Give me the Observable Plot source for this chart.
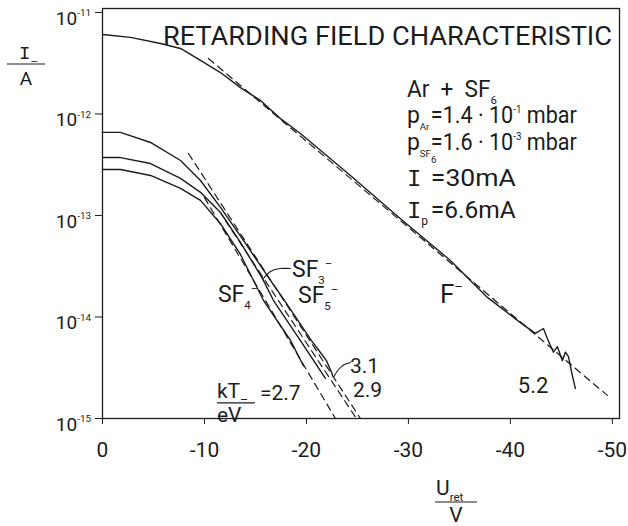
<!DOCTYPE html>
<html><head><meta charset="utf-8">
<script src="https://cdn.jsdelivr.net/npm/d3@7"></script>
<script src="https://cdn.jsdelivr.net/npm/@observablehq/plot@0.6"></script>
<style>
body{margin:0;background:#fff;}
#chart{width:628px;height:526px;}
</style></head><body><div id="chart"></div>
<script>
// ---- data (retarding voltage U in V, current I in A) ----
const xTicks = [0, -10, -20, -30, -40, -50];
const yTicks = [1e-15, 1e-14, 1e-13, 1e-12, 1e-11];

const fU = [0, -2.75, -5.69, -7.65, -9.61, -11.57, -13.53, -15.49, -17.45, -19.41, -24.31, -29.22, -34.12, -37.75, -40.98, -42.45, -43.24, -43.63, -44.22, -44.61, -45.10, -45.39, -45.69, -46.08, -46.37];
const fI = [6.07e-12, 5.68e-12, 4.95e-12, 4.42e-12, 3.37e-12, 2.56e-12, 1.82e-12, 1.36e-12, 9.0e-13, 6.43e-13, 2.48e-13, 9.3e-14, 3.6e-14, 1.56e-14, 8.8e-15, 6.9e-15, 7.7e-15, 6.1e-15, 4.5e-15, 5.1e-15, 3.7e-15, 4.5e-15, 4.1e-15, 2.65e-15, 1.98e-15];

const sf5U = [0, -1.76, -4.71, -7.65, -9.61, -11.57, -13.82, -16.47, -17.84, -20.49, -21.37, -21.96, -22.55];
const sf5I = [6.58e-13, 6.58e-13, 5.24e-13, 3.48e-13, 2.21e-13, 1.2e-13, 5.68e-14, 2.29e-14, 1.46e-14, 5.86e-15, 4.47e-15, 3.72e-15, 2.71e-15];

const sf3U = [0, -1.76, -4.71, -7.65, -9.61, -11.57, -13.53, -15.69, -16.76, -19.41, -21.86];
const sf3I = [3.72e-13, 3.72e-13, 3.25e-13, 2.32e-13, 1.69e-13, 1.07e-13, 5.42e-14, 2.39e-14, 1.46e-14, 5.86e-15, 2.48e-15];

const sf4U = [0, -1.76, -4.71, -7.65, -9.61, -11.57, -13.53, -15.78, -18.43, -19.71];
const sf4I = [2.84e-13, 2.84e-13, 2.48e-13, 1.85e-13, 1.41e-13, 8.3e-14, 4.13e-14, 1.46e-14, 5.9e-15, 3.3e-15];

// fitted exponential slopes (dashed)
const fitFU = [-10.39, -49.51], fitFI = [3.52e-12, 1.69e-15];
const fitAU = [-8.43, -25.29],  fitAI = [4.08e-13, 1e-15];
const fitBU = [-10.0, -22.84],  fitBI = [1.5e-13, 1e-15];
const fitCU = [-12.06, -24.9],  fitCI = [8.9e-14, 1e-15];

// leader lines
const leadSF3U = [-15.69, -16.47, -17.45, -18.43], leadSF3I = [2.34e-14, 2.81e-14, 3.0e-14, 3.0e-14];
const leadT31U = [-22.65, -23.14, -23.73, -24.31], leadT31I = [2.54e-15, 3.04e-15, 3.4e-15, 3.56e-15];

const rows = (u, I) => u.map((v, i) => ({u: v, I: I[i]}));

const ink = "#1c1c1c";
const FONT = "Roboto, 'DejaVu Sans', sans-serif";
const MONO = "'Liberation Mono', 'DejaVu Sans Mono', monospace";

const plot = Plot.plot({
  width: 628, height: 526,
  marginLeft: 102, marginRight: 9, marginTop: 8, marginBottom: 108,
  style: {background: "white", color: ink, fontFamily: FONT},
  x: {domain: [0, -50.7]},
  y: {type: "log", domain: [1e-15, 1.094e-11]},
  marks: [
    Plot.frame({stroke: ink, strokeWidth: 1.3}),
    Plot.axisX({ticks: xTicks, tickSize: 6, tickPadding: 18, fontSize: 21, label: null,
      tickFormat: d => d === 0 ? "0" : "-" + Math.abs(d)}),
    Plot.axisY({ticks: yTicks, tickSize: 7, label: null, tickFormat: () => ""}),
    Plot.line(rows(fitFU, fitFI), {x: "u", y: "I", stroke: ink, strokeWidth: 1.2, strokeDasharray: "7,5"}),
    Plot.line(rows(fitAU, fitAI), {x: "u", y: "I", stroke: ink, strokeWidth: 1.2, strokeDasharray: "7,5"}),
    Plot.line(rows(fitBU, fitBI), {x: "u", y: "I", stroke: ink, strokeWidth: 1.2, strokeDasharray: "7,5"}),
    Plot.line(rows(fitCU, fitCI), {x: "u", y: "I", stroke: ink, strokeWidth: 1.2, strokeDasharray: "7,5"}),
    Plot.line(rows(fU, fI), {x: "u", y: "I", stroke: ink, strokeWidth: 1.4}),
    Plot.line(rows(sf5U, sf5I), {x: "u", y: "I", stroke: ink, strokeWidth: 1.4}),
    Plot.line(rows(sf3U, sf3I), {x: "u", y: "I", stroke: ink, strokeWidth: 1.4}),
    Plot.line(rows(sf4U, sf4I), {x: "u", y: "I", stroke: ink, strokeWidth: 1.4}),
    Plot.line(rows(leadSF3U, leadSF3I), {x: "u", y: "I", stroke: ink, strokeWidth: 1.1, curve: "natural"}),
    Plot.line(rows(leadT31U, leadT31I), {x: "u", y: "I", stroke: ink, strokeWidth: 1.1, curve: "natural"})
  ]
});
document.getElementById("chart").appendChild(plot);

const sx = plot.scale("x"), sy = plot.scale("y");
const X = u => sx.apply(u), Y = I => sy.apply(I);
const svg = d3.select(plot);

// parts: "text" or [text, kind, scale, family]
function rich(x, y, size, parts, opt = {}) {
  const t = svg.append("text").attr("x", x).attr("y", y).attr("font-size", size)
    .attr("fill", ink).attr("font-family", opt.family || FONT)
    .attr("text-anchor", opt.anchor || "start");
  let shift = 0;
  for (const p of parts) {
    const [s, kind, scale, fam] = typeof p === "string" ? [p, "n"] : p;
    const target = kind === "sub" ? size * 0.3 : kind === "sup" ? -size * 0.45 : kind === "sub2" ? size * 0.55 : 0;
    const fs = kind === "n" ? size : size * (scale || 0.55);
    const ts = t.append("tspan").attr("dy", target - shift).attr("font-size", fs).text(s);
    if (fam) ts.attr("font-family", fam);
    shift = target;
  }
  if (opt.len) t.attr("textLength", opt.len).attr("lengthAdjust", "spacingAndGlyphs");
  return t;
}

// y tick labels: 10 with superscript exponent
for (const v of yTicks) {
  const e = Math.round(Math.log10(v));
  rich(91, Y(v) + 13, 19, ["10", [String(e), "sup", 0.52]], {anchor: "end"});
}

// title and conditions
rich(X(-5.98), Y(4.73e-12), 25, ["RETARDING FIELD CHARACTERISTIC"], {len: 449});
rich(X(-29.9), Y(1.46e-12), 23, ["Ar  +  SF", ["6", "sub", 0.5]], {len: 90});
rich(X(-29.9), Y(8.05e-13), 23, ["p", ["Ar", "sub", 0.42]]);
rich(X(-32.25), Y(8.05e-13), 23, ["=1.4 \u00B7 10", ["-1", "sup", 0.45], " mbar"], {len: 146});
rich(X(-29.9), Y(4.37e-13), 23, ["p", ["SF", "sub", 0.42], ["6", "sub2", 0.42]]);
rich(X(-32.25), Y(4.37e-13), 23, ["=1.6 \u00B7 10", ["-3", "sup", 0.45], " mbar"], {len: 146});
rich(X(-29.9), Y(1.93e-13), 24, [["I", "n", 1, MONO]]);
rich(X(-32.25), Y(1.93e-13), 23, ["=30mA"], {len: 85});
rich(X(-29.9), Y(9.33e-14), 24, [["I", "n", 1, MONO], ["p", "sub", 0.5]]);
rich(X(-32.25), Y(9.33e-14), 23, ["=6.6mA"], {len: 85});

// curve labels
rich(X(-11.37), Y(1.39e-14), 23, ["SF", ["4", "sub", 0.5], ["\u2013", "sup", 0.5]]);
rich(X(-18.63), Y(2.45e-14), 23, ["SF", ["3", "sub", 0.5], ["\u2013", "sup", 0.5]]);
rich(X(-19.22), Y(1.36e-14), 23, ["SF", ["5", "sub", 0.5], ["\u2013", "sup", 0.5]]);
rich(X(-33.14), Y(1.36e-14), 26, ["F", ["\u2013", "sup", 0.5]]);
rich(X(-40.78), Y(1.76e-15), 22, ["5.2"]);
rich(X(-24.31), Y(2.77e-15), 21, ["3.1"]);
rich(X(-24.61), Y(1.61e-15), 21, ["2.9"]);
// kT/eV = 2.7
rich(X(-11.27), Y(1.57e-15), 21, ["kT", ["\u2013", "sub", 0.6]]);
svg.append("line").attr("x1", X(-11.27)).attr("x2", X(-14.99)).attr("y1", Y(1.41e-15)).attr("y2", Y(1.41e-15))
  .attr("stroke", ink).attr("stroke-width", 1.2);
rich(X(-11.27), Y(9.14e-16), 21, ["eV"]);
rich(X(-15.49), Y(1.50e-15), 21, ["=2.7"]);

// axis titles (as fractions)
rich(19, 59, 19, [["I", "n", 1, MONO], ["\u2013", "sub", 0.6]]);
svg.append("line").attr("x1", 7).attr("x2", 45).attr("y1", 64).attr("y2", 64).attr("stroke", ink).attr("stroke-width", 1.2);
rich(26, 85, 19, ["A"], {anchor: "middle"});

rich(436, 495, 21, ["U", ["ret", "sub", 0.55]]);
svg.append("line").attr("x1", 435).attr("x2", 477).attr("y1", 502).attr("y2", 502).attr("stroke", ink).attr("stroke-width", 1.2);
rich(456, 522, 21, ["V"], {anchor: "middle"});
</script></body></html>
